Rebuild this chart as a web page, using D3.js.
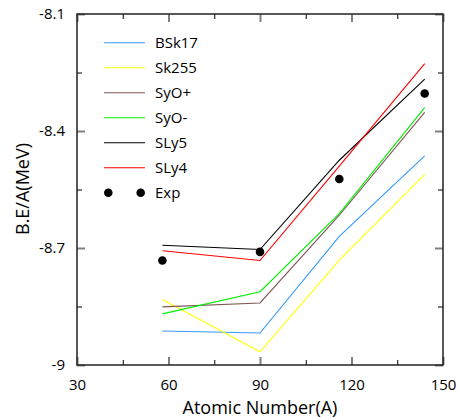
<!DOCTYPE html>
<html>
<head>
    <meta charset="utf-8">
    <title>B.E/A vs A</title>
    <script src="https://cdnjs.cloudflare.com/ajax/libs/d3/7.8.5/d3.min.js"></script>
    <style>
        body { margin: 0; background: #fff; }
        text { font-family: "Open Sans", sans-serif; fill: #000; }
    </style>
</head>
<body>
    <div id="chart"></div>

    <script>
        // Data
        const massNumbers = [58, 90, 116, 144];
        const bsk17 = [-8.913, -8.918, -8.670, -8.464];
        const sk255 = [-8.832, -8.966, -8.731, -8.511];
        const syoPlus = [-8.851, -8.841, -8.616, -8.352];
        const syoMinus = [-8.869, -8.812, -8.612, -8.340];
        const sly5 = [-8.693, -8.704, -8.475, -8.267];
        const sly4 = [-8.707, -8.732, -8.490, -8.227];
        const expValues = [-8.732, -8.710, -8.523, -8.304];

        const xTicks = [30, 60, 90, 120, 150];
        const yTicks = [-9, -8.7, -8.4, -8.1];

        const series = [
            {name: 'BSk17', values: bsk17, color: '#3399ff'},
            {name: 'Sk255', values: sk255, color: '#ffff00'},
            {name: 'SyO+', values: syoPlus, color: '#7f5454'},
            {name: 'SyO-', values: syoMinus, color: '#00ee00'},
            {name: 'SLy5', values: sly5, color: '#000000'},
            {name: 'SLy4', values: sly4, color: '#ff0000'}
        ];

        const width = 459;
        const height = 418;
        const margin = {top: 14, right: 16, bottom: 53, left: 77};

        const svg = d3.select('#chart')
            .append('svg')
            .attr('width', width)
            .attr('height', height);

        const x = d3.scaleLinear()
            .domain([30, 150])
            .range([margin.left, width - margin.right]);

        const y = d3.scaleLinear()
            .domain([-9, -8.1])
            .range([height - margin.bottom, margin.top]);

        const minorX = [45, 75, 105, 135];
        const minorY = [-8.85, -8.55, -8.25];

        // ticks on all four sides, pointing inward
        function addTicks(axisFn, scale, ticks, size, transform, color, w, labels) {
            const g = svg.append('g')
                .attr('transform', transform)
                .call(axisFn(scale).tickValues(ticks).tickSize(-size).tickSizeOuter(0)
                    .tickFormat(labels ? (d => String(d)) : ''));
            g.select('.domain').remove();
            g.selectAll('line').attr('stroke', color).attr('stroke-width', w);
            return g;
        }

        const bottom = height - margin.bottom;
        const right = width - margin.right;

        const xAxis = addTicks(d3.axisBottom, x, xTicks, 8, `translate(0,${bottom})`, '#808080', 2, true);
        xAxis.selectAll('text').attr('font-size', 15).attr('dy', 0).attr('y', 25)
            .attr('font-family', '"Open Sans", sans-serif');
        addTicks(d3.axisBottom, x, minorX, 5, `translate(0,${bottom})`, '#000', 1, false);
        addTicks(d3.axisTop, x, xTicks, 8, `translate(0,${margin.top})`, '#808080', 2, false);
        addTicks(d3.axisTop, x, minorX, 5, `translate(0,${margin.top})`, '#000', 1, false);

        const yAxis = addTicks(d3.axisLeft, y, yTicks, 8, `translate(${margin.left},0)`, '#808080', 2, true);
        yAxis.selectAll('text').attr('font-size', 15).attr('x', -12)
            .attr('font-family', '"Open Sans", sans-serif');
        addTicks(d3.axisLeft, y, minorY, 5, `translate(${margin.left},0)`, '#000', 1, false);
        addTicks(d3.axisRight, y, yTicks, 8, `translate(${right},0)`, '#808080', 2, false);
        addTicks(d3.axisRight, y, minorY, 5, `translate(${right},0)`, '#000', 1, false);

        // frame
        svg.append('rect')
            .attr('x', margin.left)
            .attr('y', margin.top)
            .attr('width', right - margin.left)
            .attr('height', bottom - margin.top)
            .attr('fill', 'none')
            .attr('stroke', '#222')
            .attr('stroke-width', 1.5);

        // lines
        const line = d3.line()
            .x((d, i) => x(massNumbers[i]))
            .y(d => y(d));

        svg.selectAll('.series')
            .data(series)
            .join('path')
            .attr('class', 'series')
            .attr('d', d => line(d.values))
            .attr('fill', 'none')
            .attr('stroke', d => d.color)
            .attr('stroke-width', 1.1);

        svg.selectAll('.exp')
            .data(expValues)
            .join('circle')
            .attr('class', 'exp')
            .attr('cx', (d, i) => x(massNumbers[i]))
            .attr('cy', d => y(d))
            .attr('r', 4.3)
            .attr('fill', '#000');

        // legend
        const legend = svg.append('g');
        const rowH = 25;
        const ly0 = 42.7;
        series.forEach((s, i) => {
            const yy = ly0 + i * rowH;
            legend.append('line')
                .attr('x1', 104).attr('x2', 145)
                .attr('y1', yy).attr('y2', yy)
                .attr('stroke', s.color)
                .attr('stroke-width', 1.1);
            legend.append('text')
                .attr('x', 155).attr('y', yy)
                .attr('dy', '0.35em')
                .attr('font-size', 15)
                .text(s.name);
        });
        const expY = ly0 + series.length * rowH;
        [108.3, 140.7].forEach(cx => {
            legend.append('circle').attr('cx', cx).attr('cy', expY).attr('r', 4.3).attr('fill', '#000');
        });
        legend.append('text')
            .attr('x', 155).attr('y', expY)
            .attr('dy', '0.35em')
            .attr('font-size', 15)
            .text('Exp');

        // axis titles
        svg.append('text')
            .attr('x', (margin.left + right) / 2)
            .attr('y', 414)
            .attr('text-anchor', 'middle')
            .attr('font-size', 18)
            .text('Atomic Number(A)');

        svg.append('text')
            .attr('transform', 'translate(29,189) rotate(-90)')
            .attr('text-anchor', 'middle')
            .attr('font-size', 18)
            .text('B.E/A(MeV)');
    </script>
</body>
</html>
